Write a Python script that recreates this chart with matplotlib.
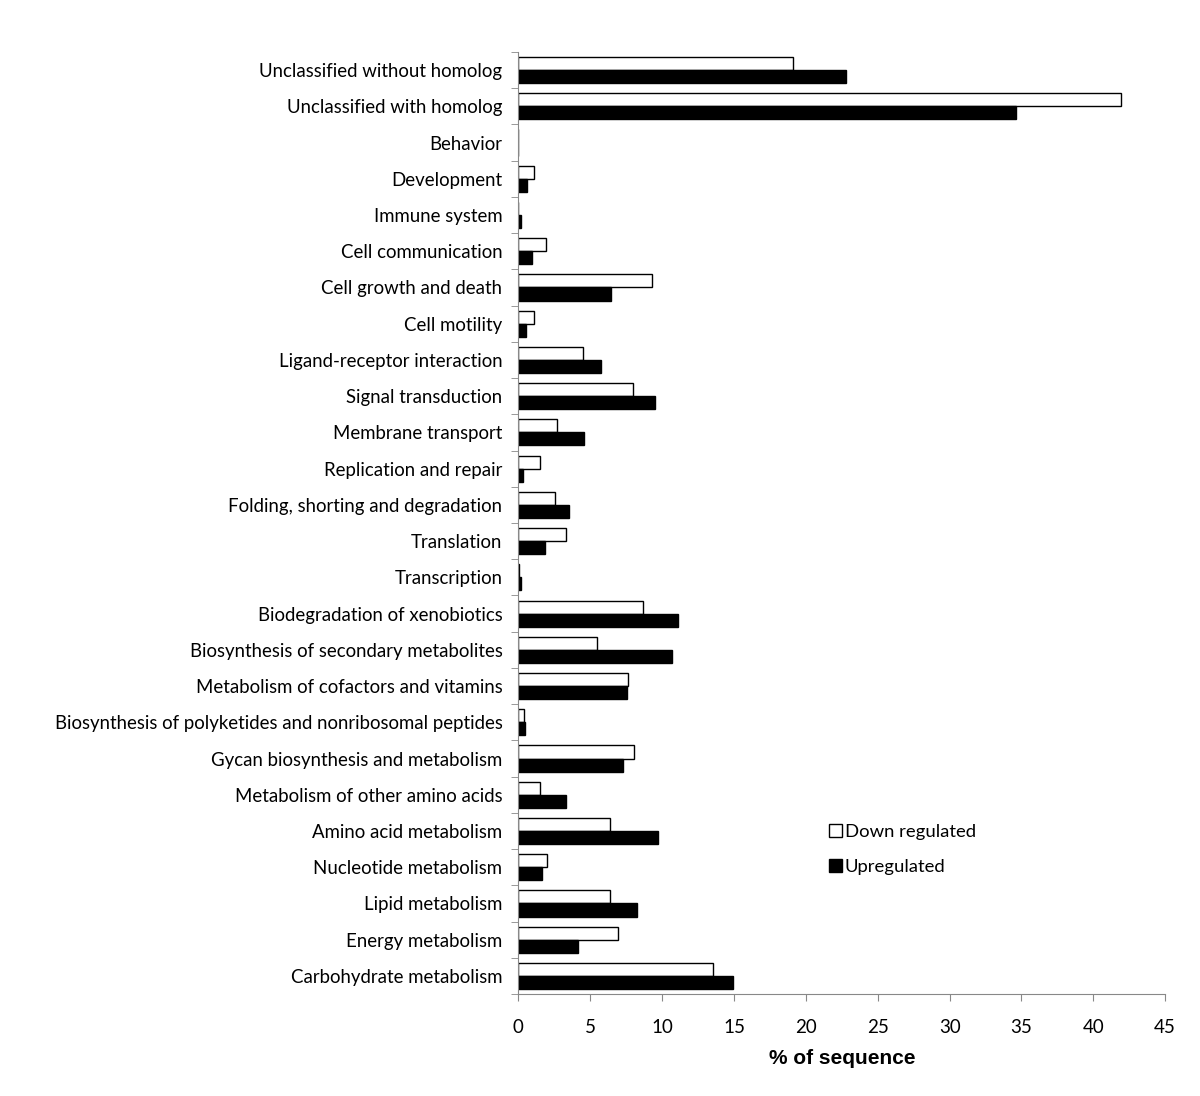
import matplotlib
matplotlib.use("Agg")
import matplotlib.pyplot as plt
import numpy as np

# Kategorien von oben nach unten
categories = [
    "Unclassified without homolog",
    "Unclassified with homolog",
    "Behavior",
    "Development",
    "Immune system",
    "Cell communication",
    "Cell growth and death",
    "Cell motility",
    "Ligand-receptor interaction",
    "Signal transduction",
    "Membrane transport",
    "Replication and repair",
    "Folding, shorting and degradation",
    "Translation",
    "Transcription",
    "Biodegradation of xenobiotics",
    "Biosynthesis of secondary metabolites",
    "Metabolism of cofactors and vitamins",
    "Biosynthesis of polyketides and nonribosomal peptides",
    "Gycan biosynthesis and metabolism",
    "Metabolism of other amino acids",
    "Amino acid metabolism",
    "Nucleotide metabolism",
    "Lipid metabolism",
    "Energy metabolism",
    "Carbohydrate metabolism",
]

down_regulated = [19.1, 41.9, 0.0, 1.07, 0.0, 1.93, 9.28, 1.07, 4.5, 8.0, 2.67, 1.51,
                  2.58, 3.34, 0.07, 8.68, 5.5, 7.66, 0.39, 8.07, 1.51, 6.4, 2.02, 6.4,
                  6.94, 13.55]
upregulated = [22.8, 34.6, 0.0, 0.58, 0.19, 0.93, 6.45, 0.51, 5.75, 9.47, 4.59, 0.35,
               3.53, 1.83, 0.2, 11.1, 10.7, 7.54, 0.46, 7.26, 3.34, 9.7, 1.67, 8.28,
               4.18, 14.9]

x_ticks = [0, 5, 10, 15, 20, 25, 30, 35, 40, 45]

label_font = ["Lato", "DejaVu Sans"]

fig = plt.figure(figsize=(12, 10.96), dpi=100)
ax = fig.add_axes([0.432, 0.093, 0.539, 0.8596])

n = len(categories)
y = np.arange(n)[::-1]  # oberste Kategorie oben
h = 0.36

ax.barh(y + h / 2, down_regulated, height=h, color="white", edgecolor="black",
        linewidth=1.0, label="Down regulated")
ax.barh(y - h / 2, upregulated, height=h, color="black", edgecolor="black",
        linewidth=1.0, label="Upregulated")

ax.set_ylim(-0.5, n - 0.5)
ax.set_xlim(0, 45)
ax.set_yticks(y)
ax.set_yticklabels(categories, fontsize=13.4, family=label_font)
ax.tick_params(axis="y", length=0, pad=11.5)
ax.set_yticks(np.arange(-0.5, n, 1.0), minor=True)
ax.tick_params(axis="y", which="minor", length=5, color="#888888")

ax.set_xticks(x_ticks)
ax.set_xticklabels([str(t) for t in x_ticks], fontsize=13.5, family=label_font)
ax.tick_params(axis="x", length=5, color="#888888", pad=13)
ax.set_xlabel("% of sequence", fontsize=15, fontweight="bold",
              family="Liberation Sans", labelpad=9)

for s in ["top", "right"]:
    ax.spines[s].set_visible(False)
for s in ["left", "bottom"]:
    ax.spines[s].set_color("#888888")

leg = ax.legend(loc="upper left", bbox_to_anchor=(0.677, 0.263),
                bbox_transform=fig.transFigure, frameon=False,
                handlelength=0.7, handleheight=0.7, handletextpad=0.15,
                labelspacing=1.0, prop={"family": label_font, "size": 13.3})

fig.savefig("out.png", dpi=100)
